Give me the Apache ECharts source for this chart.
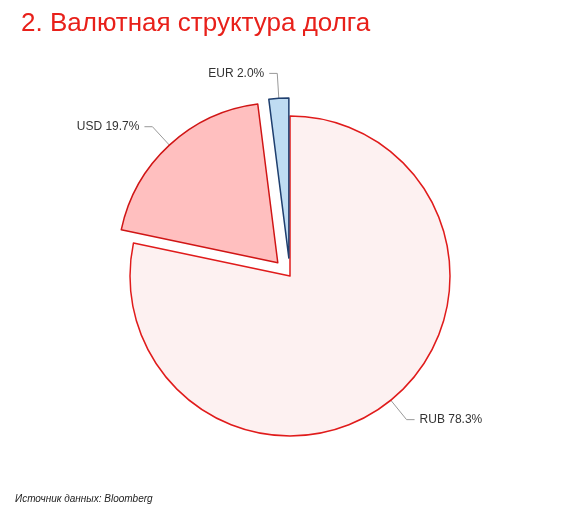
<!DOCTYPE html>
<html><head><meta charset="utf-8">
<script src="https://cdn.jsdelivr.net/npm/echarts@6/dist/echarts.min.js"></script>
<style>html,body{margin:0;padding:0;background:#fff}#c{width:565px;height:509px}</style>
</head><body><div id="c"></div>
<script>
const categories = ['RUB', 'USD', 'EUR'];
const values = [78.3, 19.7, 2.0];
const fills = ['#fdf1f1', '#ffbfbf', '#bfdcf2'];
const borders = ['#e01b1b', '#d01515', '#1f3f6f'];
const chart = echarts.init(document.getElementById('c'));
chart.setOption({
  animation: false,
  title: [
    {text: '2. Валютная структура долга', left: 16, top: 6,
     textStyle: {color: '#e8201a', fontSize: 26, fontWeight: 'normal', fontFamily: 'Liberation Sans'}},
    {text: 'Источник данных: Bloomberg', left: 10, top: 489,
     textStyle: {color: '#222', fontSize: 10, fontStyle: 'italic', fontWeight: 'normal', fontFamily: 'Liberation Sans Narrow, Liberation Sans'}}
  ],
  series: [{
    type: 'pie', center: [290, 276], radius: 160, startAngle: 90, clockwise: true,
    selectedMode: 'multiple', selectedOffset: 18,
    label: {formatter: p => p.name + ' ' + p.value.toFixed(1) + '%', color: '#333', fontSize: 12, fontFamily: 'Liberation Sans Narrow, Liberation Sans'},
    labelLine: {lineStyle: {color: '#999'}, length: 25, length2: 8},
    data: categories.map((c, i) => ({
      name: c, value: values[i], selected: i > 0,
      itemStyle: {color: fills[i], borderColor: borders[i], borderWidth: 1.5}
    }))
  }]
});
</script></body></html>
